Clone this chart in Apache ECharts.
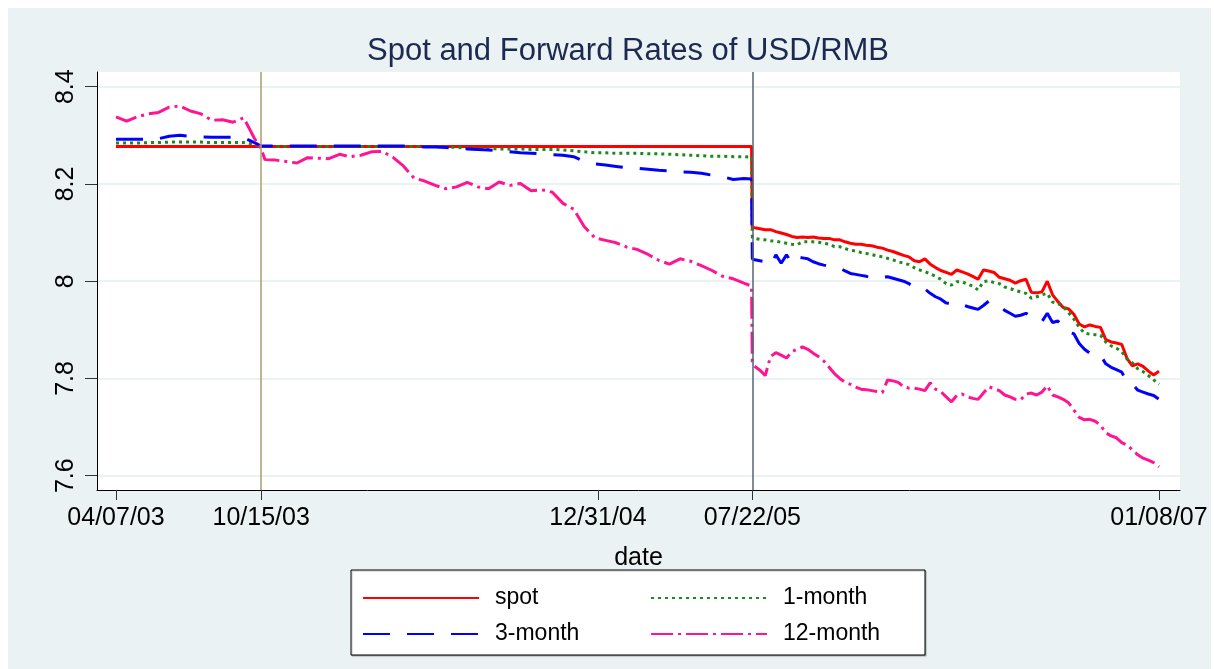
<!DOCTYPE html>
<html><head><meta charset="utf-8">
<script src="https://cdn.jsdelivr.net/npm/echarts@6/dist/echarts.min.js"></script>
<style>html,body{margin:0;padding:0;background:#fff}#c{width:1214px;height:669px}</style>
</head><body><div id="c"></div>
<script>
// ---------- data ----------
const dates = [
'2003-04-07','2003-04-21','2003-05-05','2003-05-19','2003-06-02','2003-06-16','2003-06-30','2003-07-14','2003-07-28','2003-08-11','2003-08-25','2003-09-08','2003-09-22','2003-10-06','2003-10-15','2003-10-20','2003-11-03','2003-11-17','2003-12-01','2003-12-15','2003-12-29',
'2004-01-12','2004-01-26','2004-02-09','2004-02-23','2004-03-08','2004-03-22','2004-04-05','2004-04-19','2004-05-03','2004-05-17','2004-05-31','2004-06-14','2004-06-28','2004-07-12','2004-07-26','2004-08-09','2004-08-23','2004-09-06','2004-09-20','2004-10-04','2004-10-18','2004-11-01','2004-11-15','2004-11-29','2004-12-13','2004-12-27',
'2005-01-10','2005-01-24','2005-02-07','2005-02-21','2005-03-07','2005-03-21','2005-04-04','2005-04-18','2005-05-02','2005-05-16','2005-05-30','2005-06-13','2005-06-27','2005-07-11','2005-07-21',
'2005-07-22','2005-07-25','2005-08-01','2005-08-08','2005-08-15','2005-08-22','2005-08-29','2005-09-05','2005-09-12','2005-09-19','2005-09-26','2005-10-03','2005-10-10','2005-10-17','2005-10-24','2005-10-31','2005-11-07','2005-11-14','2005-11-21','2005-11-28','2005-12-05','2005-12-12','2005-12-19','2005-12-26',
'2006-01-02','2006-01-09','2006-01-16','2006-01-23','2006-01-30','2006-02-06','2006-02-13','2006-02-20','2006-02-27','2006-03-06','2006-03-13','2006-03-20','2006-03-27','2006-04-03','2006-04-10','2006-04-17','2006-04-24','2006-05-01','2006-05-08','2006-05-15','2006-05-22','2006-05-29','2006-06-05','2006-06-12','2006-06-19','2006-06-26',
'2006-07-03','2006-07-10','2006-07-17','2006-07-24','2006-07-31','2006-08-07','2006-08-14','2006-08-21','2006-08-28','2006-09-04','2006-09-11','2006-09-18','2006-09-25','2006-10-02','2006-10-09','2006-10-16','2006-10-23','2006-10-30','2006-11-06','2006-11-13','2006-11-20','2006-11-27','2006-12-04','2006-12-11','2006-12-18','2006-12-25',
'2007-01-01','2007-01-08'];

const spot = [
8.277,8.277,8.277,8.277,8.277,8.277,8.277,8.277,8.277,8.277,8.277,8.277,8.277,8.277,8.277,
8.277,8.277,8.277,8.277,8.277,8.277,8.277,8.277,8.277,8.277,8.277,8.277,8.277,8.277,8.277,8.277,8.277,
8.277,8.277,8.277,8.277,8.277,8.277,8.277,8.277,8.277,8.277,8.277,8.277,8.277,8.277,8.277,
8.277,8.277,8.277,8.277,8.277,8.277,8.277,8.277,8.277,8.277,8.277,8.277,8.277,8.277,8.277,
8.111,8.110,8.108,8.106,8.106,8.102,8.099,8.096,8.092,8.090,8.091,8.090,8.091,8.089,8.088,8.088,8.085,8.085,8.081,8.078,8.076,8.076,8.074,8.073,
8.070,8.068,8.064,8.061,8.057,8.053,8.050,8.042,8.040,8.046,8.035,8.028,8.022,8.018,8.014,8.023,8.019,8.015,8.010,8.004,8.023,8.021,8.018,8.008,8.005,8.002,
7.996,8.001,8.004,7.977,7.976,7.978,8.000,7.972,7.958,7.946,7.943,7.932,7.912,7.906,7.910,7.907,7.905,7.880,7.875,7.873,7.870,7.841,7.826,7.830,7.825,7.815,
7.807,7.815];

const month1 = [
8.284,8.284,8.284,8.285,8.285,8.286,8.286,8.286,8.286,8.285,8.285,8.285,8.285,8.281,8.277,
8.277,8.277,8.277,8.277,8.277,8.277,8.277,8.277,8.277,8.277,8.277,8.277,8.277,8.277,8.277,8.277,8.277,
8.276,8.275,8.274,8.273,8.273,8.272,8.272,8.272,8.271,8.271,8.271,8.270,8.268,8.266,8.264,8.264,8.263,8.263,8.263,8.262,8.262,8.261,8.260,8.259,8.258,8.257,8.257,8.256,8.256,8.255,
8.090,8.088,8.086,8.085,8.083,8.082,8.080,8.078,8.076,8.075,8.081,8.081,8.081,8.080,8.078,8.076,8.071,8.071,8.067,8.064,8.062,8.059,8.057,8.055,
8.052,8.050,8.047,8.044,8.040,8.037,8.034,8.028,8.023,8.020,8.015,8.010,8.004,7.995,7.992,7.999,7.999,7.994,7.990,7.982,7.999,8.001,7.997,7.995,7.988,7.985,
7.981,7.978,7.975,7.965,7.968,7.972,7.975,7.957,7.954,7.948,7.935,7.922,7.905,7.893,7.891,7.890,7.889,7.875,7.867,7.862,7.855,7.840,7.832,7.820,7.814,7.806,
7.797,7.788];

const month3 = [
8.292,8.292,8.292,8.292,8.293,8.298,8.300,8.298,8.297,8.296,8.296,8.296,8.295,8.285,8.278,
8.278,8.278,8.278,8.278,8.278,8.278,8.278,8.278,8.278,8.278,8.278,8.278,8.278,8.278,
8.277,8.276,8.276,8.275,8.273,8.272,8.271,8.270,8.268,8.266,8.264,8.263,8.262,8.260,8.259,8.256,8.246,8.241,8.239,8.236,8.233,8.232,8.230,8.228,8.227,8.225,8.224,8.222,8.218,8.215,8.209,8.211,8.210,
8.046,8.044,8.042,8.040,8.033,8.054,8.037,8.054,8.038,8.050,8.048,8.046,8.040,8.036,8.033,8.031,8.029,8.027,8.021,8.016,8.014,8.012,8.010,8.007,
8.006,8.008,8.009,8.006,8.003,8.000,7.995,7.988,7.983,7.984,7.975,7.968,7.963,7.955,7.954,7.957,7.952,7.948,7.945,7.942,7.950,7.959,7.955,7.950,7.940,7.934,
7.928,7.930,7.934,7.927,7.920,7.917,7.934,7.915,7.918,7.905,7.895,7.892,7.872,7.860,7.852,7.853,7.848,7.830,7.823,7.818,7.813,7.793,7.788,7.776,7.772,7.768,
7.765,7.757];

const month12 = [
8.338,8.329,8.338,8.344,8.347,8.358,8.360,8.350,8.344,8.331,8.332,8.327,8.336,8.294,8.272,
8.250,8.249,8.246,8.243,8.254,8.253,8.252,8.261,8.256,8.259,8.266,8.267,8.255,8.237,8.212,8.206,8.197,8.190,8.194,8.203,8.194,8.190,8.204,8.197,8.201,8.186,8.188,8.183,8.160,8.148,8.112,8.089,8.084,8.079,8.070,8.065,8.055,8.043,8.035,8.046,8.041,8.032,8.022,8.010,8.005,7.996,7.990,
7.835,7.825,7.817,7.806,7.845,7.853,7.848,7.842,7.855,7.860,7.865,7.860,7.852,7.845,7.836,7.823,7.810,7.800,7.792,7.788,7.782,7.778,7.777,7.775,
7.773,7.771,7.797,7.795,7.792,7.783,7.780,7.780,7.778,7.775,7.791,7.778,7.773,7.762,7.752,7.765,7.768,7.762,7.759,7.757,7.770,7.783,7.779,7.775,7.766,7.762,
7.757,7.756,7.768,7.770,7.766,7.772,7.785,7.766,7.762,7.757,7.750,7.735,7.720,7.715,7.716,7.712,7.704,7.688,7.682,7.678,7.668,7.663,7.653,7.643,7.636,7.632,
7.627,7.618];

const xTickDates = ['2003-04-07','2003-10-15','2004-12-31','2005-07-22','2007-01-08'];
const yTicks = [7.6, 7.8, 8, 8.2, 8.4];
const eventDates = ['2003-10-15','2005-07-22'];
const seriesNames = ['spot','1-month','3-month','12-month'];

// ---------- helpers ----------
const DAY = 86400000;
function ts(s){ const p = s.split('-'); return Date.UTC(+p[0], +p[1]-1, +p[2]); }
function fmtDate(v){
  const d = new Date(v);
  const mm = String(d.getUTCMonth()+1).padStart(2,'0');
  const dd = String(d.getUTCDate()).padStart(2,'0');
  const yy = String(d.getUTCFullYear()%100).padStart(2,'0');
  return mm + '/' + dd + '/' + yy;
}
const FONT = "'Liberation Sans', Arial, Helvetica, sans-serif";
function pairs(vals){ return dates.map((d,i)=>[ts(d), vals[i]]); }
function mk(name, vals, color, width, dash, extra){
  return Object.assign({
    name, type:'line', data: pairs(vals), symbol:'none', showSymbol:false,
    lineStyle:{color, width, type: dash}, itemStyle:{color},
    animation:false, silent:true, z:2
  }, extra||{});
}

const chart = echarts.init(document.getElementById('c'), null, {renderer:'canvas'});
const legendCommon = {
  orient:'vertical', padding:0, itemWidth:116, itemHeight:14, itemGap:10, selectedMode:false,
  textStyle:{fontSize:23, color:'#000', fontFamily:FONT, lineHeight:26, padding:[0,0,0,11]},
  itemStyle:{color:'rgba(0,0,0,0)', borderWidth:0}
};
chart.setOption({
  backgroundColor:'#ffffff',
  animation:false,
  textStyle:{fontFamily:FONT},
  title:{text:'Spot and Forward Rates of USD/RMB', left:367, top:36, padding:0,
    textStyle:{fontSize:31, fontWeight:'normal', color:'#1d2951', fontFamily:FONT}},
  graphic:[
    {type:'rect', z:-100, shape:{x:8, y:8, width:1203, height:661}, style:{fill:'#EAF2F3'}},
    {type:'rect', z:1, shape:{x:351, y:570, width:574, height:85},
     style:{fill:'#ffffff', stroke:'#000', lineWidth:1, shadowColor:'rgba(0,0,0,0.25)', shadowOffsetX:1, shadowOffsetY:1, shadowBlur:1}}
  ],
  grid:{left:97, right:34, top:72, bottom:179, show:true, backgroundColor:'#ffffff', borderWidth:0, containLabel:false},
  xAxis:{
    type:'value', min: ts(xTickDates[0]) - 25*DAY, max: ts(xTickDates[4]) + 27.6*DAY,
    name:'date', nameLocation:'middle', nameGap:56,
    nameTextStyle:{fontSize:25, color:'#000', fontFamily:FONT},
    axisLine:{show:true, onZero:false, lineStyle:{color:'#000', width:1}},
    axisTick:{show:true, length:10, customValues: xTickDates.map(ts), lineStyle:{color:'#333', width:1}},
    axisLabel:{customValues: xTickDates.map(ts), formatter: fmtDate, fontSize:25, color:'#000', margin:16, fontFamily:FONT},
    splitLine:{show:false}
  },
  yAxis:{
    type:'value', min:7.5706, max:8.4302,
    axisLine:{show:true, onZero:false, lineStyle:{color:'#000', width:1}},
    axisTick:{show:true, length:12, customValues: yTicks, lineStyle:{color:'#333', width:1}},
    axisLabel:{customValues: yTicks, rotate:90, fontSize:25, color:'#000', margin:18, fontFamily:FONT,
      formatter: v => String(Math.round(v*10)/10)},
    splitLine:{show:true, lineStyle:{color:'#EAF2F3', width:2}}
  },
  legend:[
    Object.assign({data:[seriesNames[0], seriesNames[2]], left:362, top:585}, legendCommon),
    Object.assign({data:[seriesNames[1], seriesNames[3]], left:650, top:585}, legendCommon)
  ],
  series:[
    mk(seriesNames[0], spot, '#ff0000', 3, 'solid', {
      markLine:{silent:true, symbol:['none','none'], label:{show:false}, animation:false,
        data:[
          {xAxis: ts(eventDates[0]), lineStyle:{color:'#b09a6a', width:1.5, type:'solid'}},
          {xAxis: ts(eventDates[1]), lineStyle:{color:'#52657a', width:1.5, type:'solid'}}
        ]}
    }),
    mk(seriesNames[1], month1, '#1a8a1a', 3, [3, 4]),
    mk(seriesNames[2], month3, '#0000ff', 3, [27, 17]),
    mk(seriesNames[3], month12, '#ff1493', 3, [22, 5, 3, 5])
  ]
});
</script></body></html>
